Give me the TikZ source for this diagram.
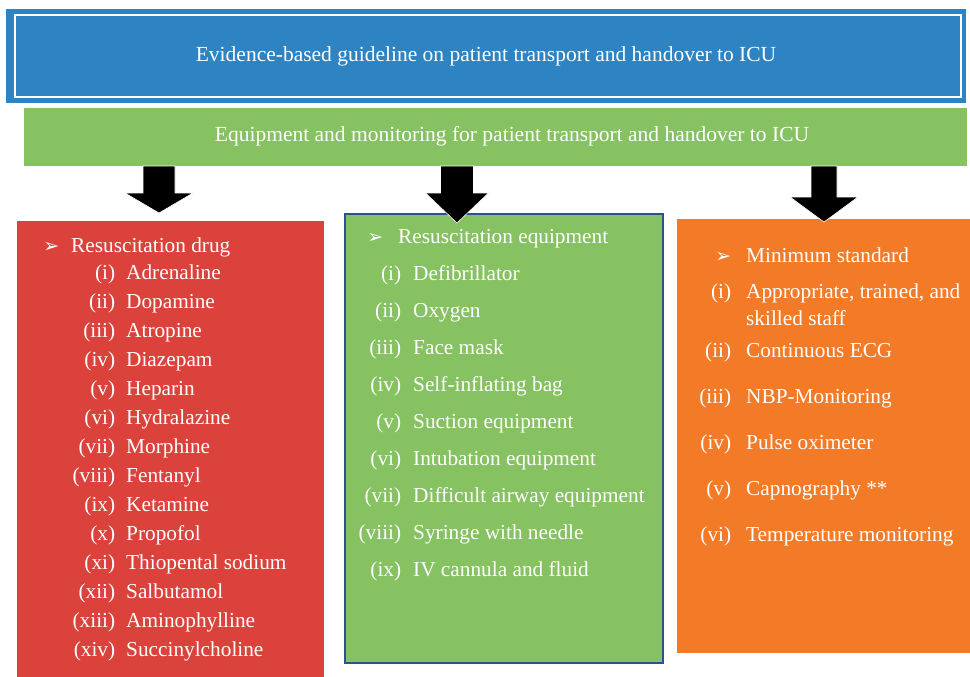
\documentclass[tikz,border=0pt]{standalone}
\usepackage{fontspec}
\setmainfont{Liberation Serif}
\newfontfamily\symfont{DejaVu Sans}

\definecolor{topblue}{HTML}{2E83C3}
\definecolor{leafgreen}{HTML}{86C162}
\definecolor{drugred}{HTML}{DB423C}
\definecolor{drugedge}{HTML}{3C8E4A}
\definecolor{equipedge}{HTML}{2F4F8F}
\definecolor{monorange}{HTML}{F37B28}

\tikzset{
  panel/.style={inner sep=0pt, outer sep=0pt},
  item/.style={anchor=base west, inner sep=0pt, text=white,
    font=\fontsize{21.3}{27}\selectfont},
  arrowfill/.style={fill=black, draw=white, line width=0.6pt}
}
\newcommand\rnum[2][12pt]{\llap{(#2)\hspace{#1}}}
\newcommand\bul[1][15pt]{\llap{{\symfont\fontsize{19}{19}\selectfont ➢}\hspace{#1}}}
\newcommand\blockarrow[5]{%
  \filldraw[arrowfill] (#1) ++(-#2,0) -- ++(2*#2,0) -- ++(0,#4) -- ++(#3-#2,0)
    -- ++(-#3,#5) -- ++(-#3,-#5) -- ++(#3-#2,0) -- cycle;}

\begin{document}
\begin{tikzpicture}[x=1pt,y=-1pt]
  \useasboundingbox[fill=white] (0,0) rectangle (970,677);

  % header boxes
  \node[panel, fill=topblue, minimum width=960, minimum height=94, text=white,
    font=\fontsize{21.5}{27}\selectfont] (top) at (486,56)
    {Evidence-based guideline on patient transport and handover to ICU};
  \draw[white, line width=2pt] ([shift={(9,6)}]top.north west)
    rectangle ([shift={(-5,-6)}]top.south east);
  \node[panel, fill=leafgreen, minimum width=943, minimum height=58] (bar) at (495.5,137) {};
  \node[item, anchor=base, font=\fontsize{21.5}{27}\selectfont] (bartext) at (512,142)
    {Equipment and monitoring for patient transport and handover to ICU};

  % three panels
  \node[panel, fill=drugred, draw=drugedge, line width=1pt,
    minimum width=306, minimum height=470] (drugs) at (170,456) {};
  \node[panel, fill=leafgreen, draw=equipedge, line width=1.2pt,
    minimum width=318, minimum height=449] (equip) at (504,438.5) {};
  \node[panel, fill=monorange, minimum width=296, minimum height=434] (monit) at (825,436) {};

  % arrows
  \coordinate (a1) at (159,166);
  \coordinate (a2) at (457,166);
  \coordinate (a3) at (824,166);
  \blockarrow{a1}{16}{34}{27}{20}
  \blockarrow{a2}{16.5}{31.5}{27}{30}
  \blockarrow{a3}{13}{34}{31}{25}

  % drugs
  \node[item] (d0) at (71,252) {\bul[12pt]Resuscitation drug};
  \node[item] (d1) at (126,279) {\rnum[11pt]{i}Adrenaline};
  \node[item] (d2) at (126,308) {\rnum[11pt]{ii}Dopamine};
  \node[item] (d3) at (126,337) {\rnum[11pt]{iii}Atropine};
  \node[item] (d4) at (126,366) {\rnum[11pt]{iv}Diazepam};
  \node[item] (d5) at (126,395) {\rnum[11pt]{v}Heparin};
  \node[item] (d6) at (126,424) {\rnum[11pt]{vi}Hydralazine};
  \node[item] (d7) at (126,453) {\rnum[11pt]{vii}Morphine};
  \node[item] (d8) at (126,482) {\rnum[11pt]{viii}Fentanyl};
  \node[item] (d9) at (126,511) {\rnum[11pt]{ix}Ketamine};
  \node[item] (d10) at (126,540) {\rnum[11pt]{x}Propofol};
  \node[item] (d11) at (126,569) {\rnum[11pt]{xi}Thiopental sodium};
  \node[item] (d12) at (126,598) {\rnum[11pt]{xii}Salbutamol};
  \node[item] (d13) at (126,627) {\rnum[11pt]{xiii}Aminophylline};
  \node[item] (d14) at (126,656) {\rnum[11pt]{xiv}Succinylcholine};

  % equipment
  \node[item] (e0) at (398,243) {\bul[15pt]Resuscitation equipment};
  \node[item] (e1) at (413,280) {\rnum{i}Defibrillator};
  \node[item] (e2) at (413,317) {\rnum{ii}Oxygen};
  \node[item] (e3) at (413,354) {\rnum{iii}Face mask};
  \node[item] (e4) at (413,391) {\rnum{iv}Self-inflating bag};
  \node[item] (e5) at (413,428) {\rnum{v}Suction equipment};
  \node[item] (e6) at (413,465) {\rnum{vi}Intubation equipment};
  \node[item] (e7) at (413,502) {\rnum{vii}Difficult airway equipment};
  \node[item] (e8) at (413,539) {\rnum{viii}Syringe with needle};
  \node[item] (e9) at (413,576) {\rnum{ix}IV cannula and fluid};

  % monitoring
  \node[item] (m0) at (746,262) {\bul[15pt]Minimum standard};
  \node[item] (m1) at (746,298) {\rnum[15pt]{i}Appropriate, trained, and};
  \node[item] (m1b) at (746,325) {skilled staff};
  \node[item] (m2) at (746,357) {\rnum[15pt]{ii}Continuous ECG};
  \node[item] (m3) at (746,403) {\rnum[15pt]{iii}NBP-Monitoring};
  \node[item] (m4) at (746,449) {\rnum[15pt]{iv}Pulse oximeter};
  \node[item] (m5) at (746,495) {\rnum[15pt]{v}Capnography **};
  \node[item] (m6) at (746,541) {\rnum[15pt]{vi}Temperature monitoring};
\end{tikzpicture}
\end{document}
